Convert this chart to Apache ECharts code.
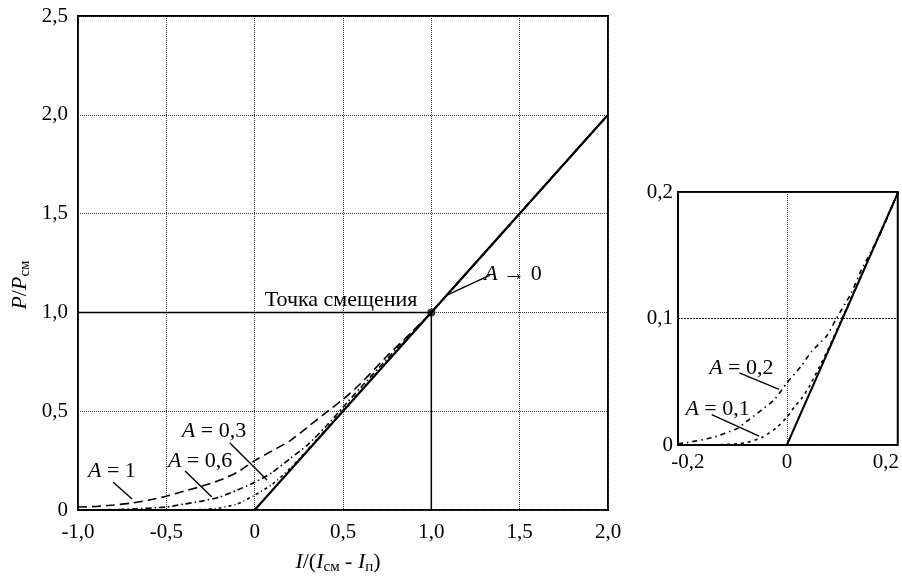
<!DOCTYPE html>
<html>
<head>
<meta charset="utf-8">
<script src="https://cdn.jsdelivr.net/npm/echarts@6/dist/echarts.min.js"></script>
<style>html,body{margin:0;padding:0;background:#fff}#c{width:902px;height:579px}</style>
</head>
<body>
<div id="c"></div>
<script>
// ---- main chart data ----
const mainXTicks = ['-1,0', '-0,5', '0', '0,5', '1,0', '1,5', '2,0'];
const mainYTicks = ['0', '0,5', '1,0', '1,5', '2,0', '2,5'];
const solidMain = [[-1, 0], [0, 0], [2, 2]];
const curveA1 = [[-1, 0.015], [-0.9, 0.018], [-0.8, 0.025], [-0.7, 0.035], [-0.6, 0.05], [-0.5, 0.07], [-0.4, 0.095], [-0.3, 0.12], [-0.2, 0.15], [-0.1, 0.19], [0, 0.25], [0.1, 0.3], [0.2, 0.35], [0.3, 0.42], [0.4, 0.49], [0.5, 0.56], [0.6, 0.64], [0.75, 0.78], [0.9, 0.91], [1, 1], [1.25, 1.25], [2, 2]];
const curveA06 = [[-1, 0], [-0.75, 0.003], [-0.5, 0.015], [-0.4, 0.03], [-0.3, 0.045], [-0.2, 0.065], [-0.1, 0.1], [0, 0.14], [0.1, 0.19], [0.2, 0.26], [0.3, 0.33], [0.4, 0.42], [0.5, 0.52], [0.6, 0.62], [0.75, 0.765], [1, 1], [1.5, 1.5], [2, 2]];
const curveA03 = [[-0.6, 0], [-0.3, 0.002], [-0.2, 0.01], [-0.1, 0.03], [0, 0.075], [0.1, 0.13], [0.2, 0.21], [0.3, 0.305], [0.4, 0.405], [0.5, 0.505], [1, 1], [2, 2]];
const biasLines = [[-1, 1], [1, 1], [1, 0]];
const biasPoint = [[1, 1]];

// ---- inset data ----
const insetXTickValues = [-0.2, 0, 0.2];
const insetXTicks = ['-0,2', '0', '0,2'];
const insetYTicks = ['0', '0,1', '0,2'];
const solidInset = [[-0.22, 0], [0, 0], [0.225, 0.2]];
const curveA02 = [[-0.22, 0.001], [-0.2, 0.002], [-0.15, 0.006], [-0.1, 0.013], [-0.08, 0.019], [-0.05, 0.028], [-0.025, 0.036], [0, 0.049], [0.03, 0.063], [0.05, 0.074], [0.08, 0.086], [0.1, 0.1], [0.13, 0.12], [0.15, 0.138], [0.19, 0.168], [0.225, 0.2]];
const curveA01 = [[-0.22, 0], [-0.15, 0], [-0.1, 0.001], [-0.08, 0.002], [-0.05, 0.006], [-0.02, 0.014], [0, 0.022], [0.015, 0.03], [0.03, 0.037], [0.045, 0.046], [0.07, 0.065], [0.085, 0.077], [0.11, 0.099], [0.15, 0.134], [0.19, 0.169], [0.225, 0.2]];

// ---- annotations (data coordinates) ----
const mainNotes = [
  { text: '{i|A} = 1', at: [-0.808, 0.197], from: [-0.802, 0.142], to: [-0.694, 0.056] },
  { text: '{i|A} = 0,6', at: [-0.309, 0.248], from: [-0.394, 0.197], to: [-0.242, 0.066] },
  { text: '{i|A} = 0,3', at: [-0.23, 0.40], from: [-0.14, 0.339], to: [0.07, 0.152] },
  { text: '{i|A} → 0', at: [1.462, 1.194], from: [1.332, 1.189], to: [1.089, 1.088] },
  { text: 'Точка смещения', at: [0.489, 1.063] }
];
const insetNotes = [
  { text: '{i|A} = 0,2', at: [-0.092, 0.061], from: [-0.096, 0.057], to: [-0.016, 0.044] },
  { text: '{i|A} = 0,1', at: [-0.14, 0.0286], from: [-0.152, 0.024], to: [-0.056, 0.007] }
];

const FONT = 'Liberation Serif';
const chart = echarts.init(document.getElementById('c'), null, { renderer: 'canvas' });
const grid = '#333';
const fmt = (v, arr, step, start) => {
  const i = Math.round((v - start) / step);
  return arr[i] !== undefined ? arr[i] : '';
};
const lineS = (data, type, width, xi, extra) => Object.assign({
  type: 'line', data: data, xAxisIndex: xi, yAxisIndex: xi, symbol: 'none', silent: true,
  lineStyle: { color: '#000', width: width, type: type }, z: 5
}, extra || {});

chart.setOption({
  animation: false,
  backgroundColor: '#fff',
  grid: [
    { left: 78, top: 16, width: 530, height: 494, show: true, borderColor: '#000', borderWidth: 2, backgroundColor: 'transparent' },
    { left: 678, top: 192, width: 222, height: 253, show: true, borderColor: '#000', borderWidth: 2, backgroundColor: 'transparent' }
  ],
  xAxis: [
    { type: 'value', gridIndex: 0, min: -1, max: 2, interval: 0.5,
      axisLine: { show: false }, axisTick: { show: false },
      axisLabel: { margin: 12, fontFamily: FONT, fontSize: 21, color: '#000', formatter: v => fmt(v, mainXTicks, 0.5, -1) },
      splitLine: { show: true, lineStyle: { color: grid, type: 'dotted', width: 1 } } },
    { type: 'value', gridIndex: 1, min: -0.22, max: 0.224,
      axisLine: { show: false }, axisTick: { show: false },
      axisLabel: { margin: 7, fontFamily: FONT, fontSize: 21, color: '#000', customValues: insetXTickValues,
        formatter: v => { const i = insetXTickValues.findIndex(t => Math.abs(t - v) < 1e-6); return i >= 0 ? insetXTicks[i] : ''; } },
      splitLine: { show: false } }
  ],
  yAxis: [
    { type: 'value', gridIndex: 0, min: 0, max: 2.5, interval: 0.5,
      axisLine: { show: false }, axisTick: { show: false },
      axisLabel: { margin: 10, fontFamily: FONT, fontSize: 21, color: '#000', formatter: v => fmt(v, mainYTicks, 0.5, 0) },
      splitLine: { show: true, lineStyle: { color: grid, type: 'dotted', width: 1 } } },
    { type: 'value', gridIndex: 1, min: 0, max: 0.2, interval: 0.1,
      axisLine: { show: false }, axisTick: { show: false },
      axisLabel: { margin: 5, fontFamily: FONT, fontSize: 21, color: '#000', formatter: v => fmt(v, insetYTicks, 0.1, 0) },
      splitLine: { show: true, lineStyle: { color: '#222', type: [2, 1], width: 1 } } }
  ],
  series: [
    lineS(biasLines, 'solid', 1.5, 0, { z: 4 }),
    lineS(curveA1, [9, 5], 1.6, 0, { smooth: 0.2 }),
    lineS(curveA06, [6, 3, 1.5, 3], 1.6, 0, { smooth: 0.2 }),
    lineS(curveA03, [3, 3, 1, 3], 1.6, 0, { smooth: 0.2 }),
    lineS(solidMain, 'solid', 2.2, 0, { z: 6 }),
    { type: 'scatter', data: biasPoint, xAxisIndex: 0, yAxisIndex: 0, symbolSize: 8, itemStyle: { color: '#000' }, silent: true, z: 7 },
    lineS(solidInset, 'solid', 2, 1, { z: 6,
      markLine: { symbol: 'none', silent: true, label: { show: false }, lineStyle: { color: grid, type: 'dotted', width: 1 }, data: [{ xAxis: 0 }] } }),
    lineS(curveA02, [5, 4, 1.5, 4], 1.6, 1, { smooth: 0.2 }),
    lineS(curveA01, [3, 4], 1.6, 1, { smooth: 0.2 })
  ]
});

const rich = {
  i: { fontFamily: FONT, fontSize: 22, fontStyle: 'italic', lineHeight: 26, fill: '#000' },
  n: { fontFamily: FONT, fontSize: 22, lineHeight: 26, fill: '#000' },
  s: { fontFamily: FONT, fontSize: 15, lineHeight: 15, verticalAlign: 'bottom', fill: '#000' }
};
const elements = [];
function addNotes(notes, gi) {
  notes.forEach(n => {
    const p = chart.convertToPixel({ gridIndex: gi }, n.at);
    elements.push({ type: 'text', x: p[0], y: p[1], z: 20, silent: true,
      style: { text: n.text, fontFamily: FONT, fontSize: 22, fill: '#000', align: 'center', verticalAlign: 'middle', rich: rich } });
    if (n.from) {
      const a = chart.convertToPixel({ gridIndex: gi }, n.from);
      const b = chart.convertToPixel({ gridIndex: gi }, n.to);
      elements.push({ type: 'line', z: 20, silent: true, shape: { x1: a[0], y1: a[1], x2: b[0], y2: b[1] }, style: { stroke: '#000', lineWidth: 1.4 } });
    }
  });
}
addNotes(mainNotes, 0);
addNotes(insetNotes, 1);
// axis names
elements.push({ type: 'text', x: 20, y: 285, rotation: Math.PI / 2, z: 20, silent: true,
  style: { text: '{i|P}{n|/}{i|P}{s|см}', align: 'center', verticalAlign: 'middle', rich: rich } });
elements.push({ type: 'text', x: 338, y: 562, z: 20, silent: true,
  style: { text: '{i|I}{n|/(}{i|I}{s|см}{n| - }{i|I}{s|п}{n|)}', align: 'center', verticalAlign: 'middle', rich: rich } });
chart.setOption({ graphic: { elements: elements } });
</script>
</body>
</html>
